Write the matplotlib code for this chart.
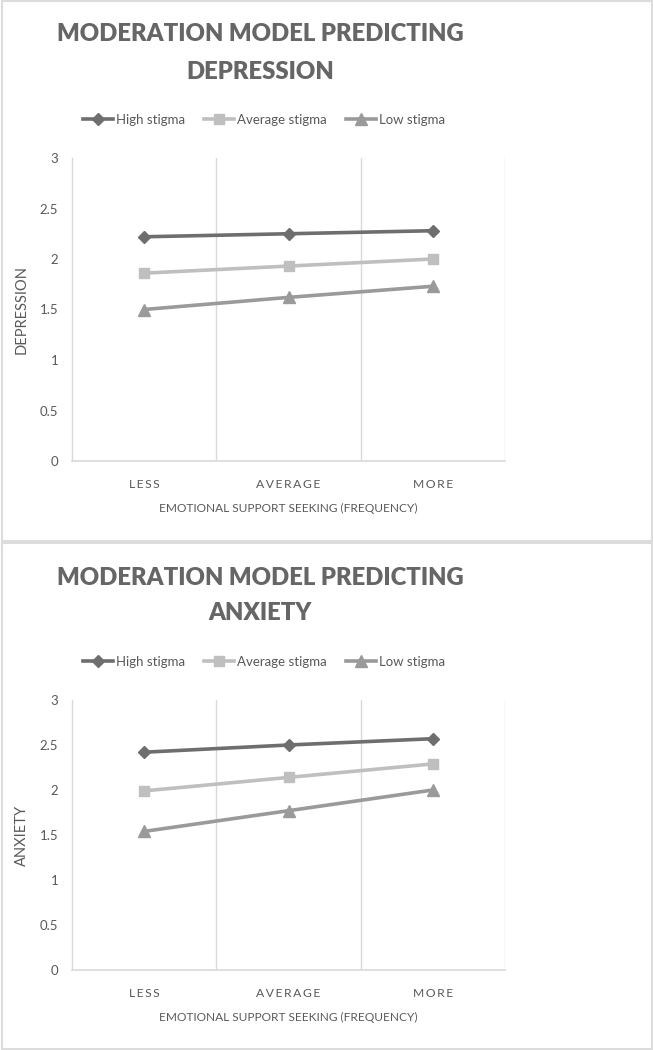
import matplotlib
matplotlib.use("Agg")
import matplotlib.pyplot as plt
from matplotlib.patches import Rectangle

categories = ["LESS", "AVERAGE", "MORE"]
series_names = ["High stigma", "Average stigma", "Low stigma"]

dep_high = [2.22, 2.25, 2.28]
dep_avg = [1.86, 1.93, 2.00]
dep_low = [1.50, 1.62, 1.73]

anx_high = [2.42, 2.50, 2.57]
anx_avg = [1.99, 2.14, 2.29]
anx_low = [1.54, 1.77, 2.00]

y_ticks = [0, 0.5, 1, 1.5, 2, 2.5, 3]

W, H = 653, 1050
TXT = "#595959"
GRID = "#d9d9d9"
colors = ["#6e6e6e", "#bfbfbf", "#9a9a9a"]
markers = ["D", "s", "^"]
msizes = [6.5, 7.5, 8]
FAM = ["Lato", "DejaVu Sans"]
HS = "\u200a"

fig = plt.figure(figsize=(W / 100, H / 100), dpi=100)
fig.patch.set_facecolor("white")


def spaced(s, n=1):
    return (HS * n).join(list(s))


def fx(px):
    return px / W


def fy(py):
    return 1 - py / H


def panel(top, bottom, plot_top, plot_bot, title2, ylabel, vals, title_y, leg_y, xt_y, xl_y):
    fig.patches.append(Rectangle((fx(1.5), fy(bottom)), fx(650), (bottom - top) / H,
                                 transform=fig.transFigure, fill=False,
                                 edgecolor="#dcdcdc", linewidth=1.5))
    left, right = 72, 505
    ax = fig.add_axes([fx(left), fy(plot_bot), fx(right - left), (plot_bot - plot_top) / H])
    x = list(range(len(categories)))
    for v, name, c, m, ms in zip(vals, series_names, colors, markers, msizes):
        ax.plot(x, v, color=c, marker=m, markersize=ms, linewidth=2.6, label=name,
                markeredgecolor=c, markerfacecolor=c)
    ax.set_xlim(-0.5, len(categories) - 0.5)
    ax.set_ylim(0, 3)
    ax.set_yticks(y_ticks)
    ax.set_yticklabels([f"{t:g}" for t in y_ticks], fontsize=9.5, color=TXT, family=FAM)
    ax.set_xticks(x)
    ax.set_xticklabels([spaced(c, 2) for c in categories], fontsize=8.7, color=TXT, family=FAM)
    ax.set_xticks([i + 0.5 for i in x], minor=True)
    ax.tick_params(axis="both", which="both", length=0)
    ax.tick_params(axis="y", pad=10)
    ax.tick_params(axis="x", pad=13)
    ax.grid(True, axis="x", which="minor", color=GRID, linewidth=1)
    for s in ["top", "right"]:
        ax.spines[s].set_visible(False)
    ax.spines["left"].set_color(GRID)
    ax.spines["bottom"].set_color(GRID)
    ax.spines["left"].set_linewidth(1)
    ax.spines["bottom"].set_linewidth(1.2)
    ax.set_ylabel(ylabel, fontsize=10.5, color=TXT, family=FAM)
    ax.yaxis.set_label_coords((29 - left) / (right - left), 0.5)
    fig.text(fx(288), fy(xl_y), "EMOTIONAL SUPPORT SEEKING (FREQUENCY)", fontsize=8.6,
             color=TXT, family=FAM, ha="center", va="center")
    fig.text(fx(260), fy(title_y[0]), "MODERATION MODEL PREDICTING", fontsize=17.2,
             color="#666666", family=FAM, fontweight="heavy", ha="center", va="center")
    fig.text(fx(260), fy(title_y[1]), title2, fontsize=17.2,
             color="#666666", family=FAM, fontweight="heavy", ha="center", va="center")
    ax.legend(loc="center", bbox_to_anchor=(fx(264), fy(leg_y)),
              bbox_transform=fig.transFigure, ncol=3, frameon=False,
              prop={"family": FAM, "size": 9.5}, handlelength=2.3,
              handletextpad=0.25, columnspacing=1.4, labelcolor=TXT)
    return ax


panel(1, 541, 158, 461, "DEPRESSION", "DEPRESSION",
      [dep_high, dep_avg, dep_low], (34, 72), 120, 482, 508)
panel(543, 1049, 700, 970, "ANXIETY", "ANXIETY",
      [anx_high, anx_avg, anx_low], (578, 613), 662, 990, 1017)

fig.savefig("out.png", dpi=100, facecolor="white")
